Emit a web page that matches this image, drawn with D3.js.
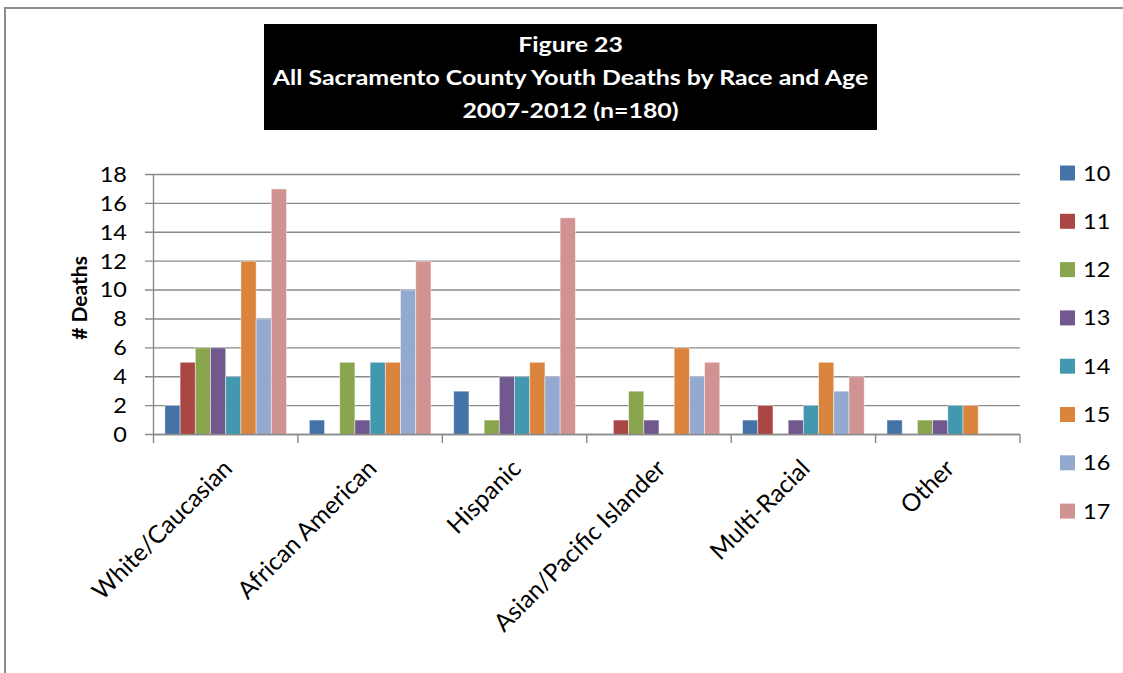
<!DOCTYPE html>
<html>
<head>
<meta charset="utf-8">
<script src="https://cdn.jsdelivr.net/npm/d3@7"></script>
<style>
  html, body { margin: 0; padding: 0; background: #fff; }
  svg { display: block; }
  text { font-family: Lato, "Open Sans", sans-serif; fill: #000; }
</style>
</head>
<body>
<svg id="chart" width="1123" height="673"></svg>
<script>
// Race/ethnicity groups along the x axis
const categories = ["White/Caucasian", "African American", "Hispanic", "Asian/Pacific Islander", "Multi-Racial", "Other"];
// Age of the youth (one series per age)
const ages = ["10", "11", "12", "13", "14", "15", "16", "17"];
// Deaths per group, one array per age
const age10 = [2, 1, 3, 0, 1, 1];
const age11 = [5, 0, 0, 1, 2, 0];
const age12 = [6, 5, 1, 3, 0, 1];
const age13 = [6, 1, 4, 1, 1, 1];
const age14 = [4, 5, 4, 0, 2, 2];
const age15 = [12, 5, 5, 6, 5, 2];
const age16 = [8, 10, 4, 4, 3, 0];
const age17 = [17, 12, 15, 5, 4, 0];
const yTicks = [0, 2, 4, 6, 8, 10, 12, 14, 16, 18];
const titleLines = ["Figure 23", "All Sacramento County Youth Deaths by Race and Age", "2007-2012 (n=180)"];
const colors = ["#4572A7", "#AA4643", "#89A54E", "#71588F", "#4198AF", "#DB843D", "#93A9CF", "#D19392"];

const seriesValues = [age10, age11, age12, age13, age14, age15, age16, age17];
const rows = categories.map((c, i) => ({ category: c, values: ages.map((a, j) => ({ age: a, value: seriesValues[j][i] })) }));

const svg = d3.select("#chart");
const gridColor = "#8a8a8a";
const stretch = 1.12; // horizontal text is drawn slightly wide

// outer frame (top and left edges)
svg.append("path")
  .attr("d", "M5,673 L5,8 L1123,8")
  .attr("fill", "none").attr("stroke", "#8c8c8c").attr("stroke-width", 2);

// plot area
const x0 = d3.scaleBand().domain(categories).range([153.5, 1020]).padding(0);
const x1 = d3.scaleBand().domain(ages).range([0, x0.bandwidth()]).paddingInner(0).paddingOuter(0.75);
const y = d3.scaleLinear().domain([0, 18]).range([434.5, 174.5]);

// horizontal gridlines (extend left as tick marks)
svg.append("g").selectAll("line").data(yTicks).join("line")
  .attr("x1", 145).attr("x2", 1020)
  .attr("y1", d => y(d)).attr("y2", d => y(d))
  .attr("stroke", gridColor).attr("stroke-width", 1.4);

// y tick labels
svg.append("g").selectAll("text").data(yTicks).join("text")
  .attr("transform", d => `translate(127,${y(d)}) scale(${stretch},1)`)
  .attr("text-anchor", "end").attr("dy", "0.35em")
  .style("font-size", "21px")
  .text(d => d);

// bars
const groups = svg.append("g").selectAll("g").data(rows).join("g")
  .attr("transform", d => `translate(${x0(d.category)},0)`);
groups.selectAll("rect").data(d => d.values).join("rect")
  .attr("x", d => x1(d.age))
  .attr("width", x1.bandwidth())
  .attr("y", d => y(d.value))
  .attr("height", d => y(0) - y(d.value))
  .attr("fill", (d, i) => colors[i])
  .attr("stroke", d => d.value > 0 ? "rgba(255,255,255,0.55)" : "none")
  .attr("stroke-width", 0.8);

// y axis line
svg.append("line")
  .attr("x1", 153.5).attr("x2", 153.5).attr("y1", 174.5).attr("y2", 443)
  .attr("stroke", gridColor).attr("stroke-width", 1.4);
// x axis baseline and category separators
svg.append("line")
  .attr("x1", 153.5).attr("x2", 1020).attr("y1", y(0)).attr("y2", y(0))
  .attr("stroke", gridColor).attr("stroke-width", 1.4);
const sepPositions = categories.map(c => x0(c) + x0.bandwidth());
svg.append("g").selectAll("line").data(sepPositions).join("line")
  .attr("x1", d => d).attr("x2", d => d).attr("y1", y(0)).attr("y2", 443)
  .attr("stroke", gridColor).attr("stroke-width", 1.4);

// rotated category labels
svg.append("g").selectAll("text").data(categories).join("text")
  .attr("transform", d => `translate(${x0(d) + x0.bandwidth() / 2 + 8},470) rotate(-45)`)
  .attr("text-anchor", "end")
  .style("font-size", "24.5px")
  .text(d => d);

// y axis title
svg.append("text")
  .attr("transform", `translate(87,298) rotate(-90)`)
  .attr("text-anchor", "middle")
  .style("font-size", "21px").style("font-weight", "bold")
  .text("# Deaths");

// legend
const legend = svg.append("g").selectAll("g").data(ages).join("g")
  .attr("transform", (d, i) => `translate(1060,${173 + i * 48.3})`);
legend.append("rect").attr("x", 0).attr("y", -7.5).attr("width", 15).attr("height", 15)
  .attr("fill", (d, i) => colors[i]);
legend.append("text").attr("transform", `translate(23,0) scale(${stretch},1)`).attr("dy", "0.36em")
  .style("font-size", "21px").text(d => d);

// title block
svg.append("rect").attr("x", 264).attr("y", 24).attr("width", 613).attr("height", 106).attr("fill", "#000");
const titleG = svg.append("g");
const titleTexts = titleG.selectAll("text").data(titleLines).join("text")
  .attr("x", 0).attr("y", (d, i) => 52 + i * 33)
  .attr("text-anchor", "middle")
  .style("font-size", "21px").style("font-weight", "bold").style("fill", "#fff")
  .text(d => d);
const natural = titleTexts.nodes()[1].getComputedTextLength();
titleG.attr("transform", `translate(570.5,0) scale(${596 / natural},1)`);
</script>
</body>
</html>
